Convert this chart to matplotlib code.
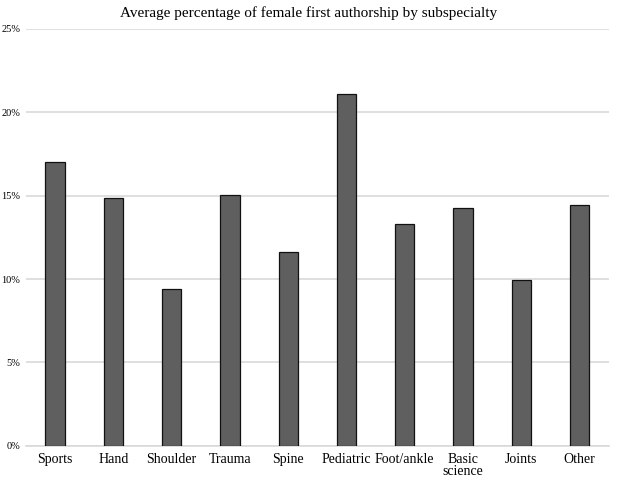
import matplotlib
matplotlib.use("Agg")
import matplotlib.pyplot as plt
from matplotlib.ticker import PercentFormatter

categories = ["Sports", "Hand", "Shoulder", "Trauma", "Spine", "Pediatric",
              "Foot/ankle", "Basic\nscience", "Joints", "Other"]
female_first_pct = [17.0, 14.85, 9.42, 15.05, 11.64, 21.12, 13.33, 14.23, 9.97, 14.45]

plt.rcParams["font.family"] = ["Liberation Serif", "DejaVu Serif"]

fig = plt.figure(figsize=(6.18, 4.8), dpi=100)
ax = fig.add_axes([0.042, 0.071, 0.943, 0.869])

x = range(len(categories))
ax.bar(x, female_first_pct, width=0.33, color="#5f5f5f", edgecolor="#111111",
       linewidth=0.9, zorder=3)

ax.set_ylim(0, 25)
ax.set_xlim(-0.5, len(categories) - 0.5)
ax.set_yticks([0, 5, 10, 15, 20, 25])
ax.yaxis.set_major_formatter(PercentFormatter(decimals=0))
ax.grid(axis="y", color="#d9d9d9", linewidth=1.2, zorder=0)
ax.set_xticks(list(x))
ax.set_xticklabels(categories, fontsize=10, linespacing=0.95)
ax.tick_params(axis="y", labelsize=7.5, length=0, pad=4)
ax.tick_params(axis="x", length=0, pad=5)
for s in ["top", "right", "left"]:
    ax.spines[s].set_visible(False)
ax.spines["bottom"].set_color("#d9d9d9")
ax.spines["bottom"].set_linewidth(1.2)

fig.suptitle("Average percentage of female first authorship by subspecialty",
             fontsize=11, y=0.988, va="top")

fig.savefig("out.png", dpi=100)
